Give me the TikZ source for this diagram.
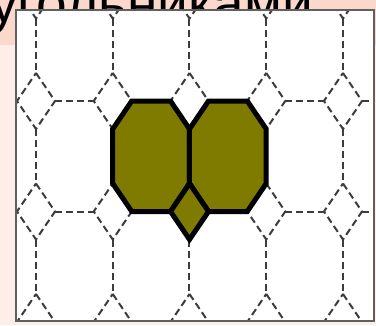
\documentclass[tikz,border=0pt]{standalone}
\usepackage{fontspec}
\setmainfont{Liberation Sans}
\definecolor{slidepink}{HTML}{FAD9CC}
\definecolor{slidelight}{HTML}{FDEEE8}
\definecolor{tileolive}{HTML}{7F7A00}
\definecolor{tileink}{HTML}{3C3C3C}
\begin{document}
\begin{tikzpicture}[x=0.3mm,y=-0.3mm,line join=miter,
  grid/.style={tileink,line width=0.6mm,dash pattern=on 2.1mm off 1.2mm},
  cell/.style={draw=black,fill=tileolive,line width=1.5mm},
  framepen/.style={draw=gray!75!black,line width=0.45mm},
  title/.style={font=\fontsize{47}{50}\selectfont,anchor=base east,inner sep=0pt}]
\path[use as bounding box] (0,0) rectangle (376,325);
\fill[slidelight] (0,0) rectangle (376,325);
\fill[slidepink] (0,0) rectangle (376,45);
\node[title] (head) at (313,22) {угольниками};
\node[fill=white,inner sep=0pt,outer sep=0pt,anchor=north west,
  minimum width=107.4mm,minimum height=93.3mm] (frame) at (16,10) {};
% dashed tiling: diamonds and the octagon edges between them
\begin{scope}
\clip (frame.north west) rectangle (frame.south east);
\foreach \i in {-1,...,5} \foreach \j in {0,...,3} {
  \pgfmathsetmacro\cx{36+76.75*\i}
  \pgfmathsetmacro\cy{-9.5+110.5*\j}
  \draw[grid] (\cx,\cy-28) -- (\cx+19,\cy) -- (\cx,\cy+28) -- (\cx-19,\cy) -- cycle;
  \draw[grid] (\cx+19,\cy) -- (\cx+57.75,\cy);
  \draw[grid] (\cx,\cy+28) -- (\cx,\cy+82.5);
}
\end{scope}
\draw[framepen] (frame.north west) rectangle (frame.south east);
% filled cells
\draw[cell] (131.75,101) -- (170.5,101) -- (189.5,129) -- (189.5,183.5) -- (170.5,211.5)
  -- (131.75,211.5) -- (112.75,183.5) -- (112.75,129) -- cycle;
\draw[cell] (208.5,101) -- (247.25,101) -- (266.25,129) -- (266.25,183.5) -- (247.25,211.5)
  -- (208.5,211.5) -- (189.5,183.5) -- (189.5,129) -- cycle;
\draw[cell] (189.5,183.5) -- (208.5,211.5) -- (189.5,239.5) -- (170.5,211.5) -- cycle;
\end{tikzpicture}
\end{document}
